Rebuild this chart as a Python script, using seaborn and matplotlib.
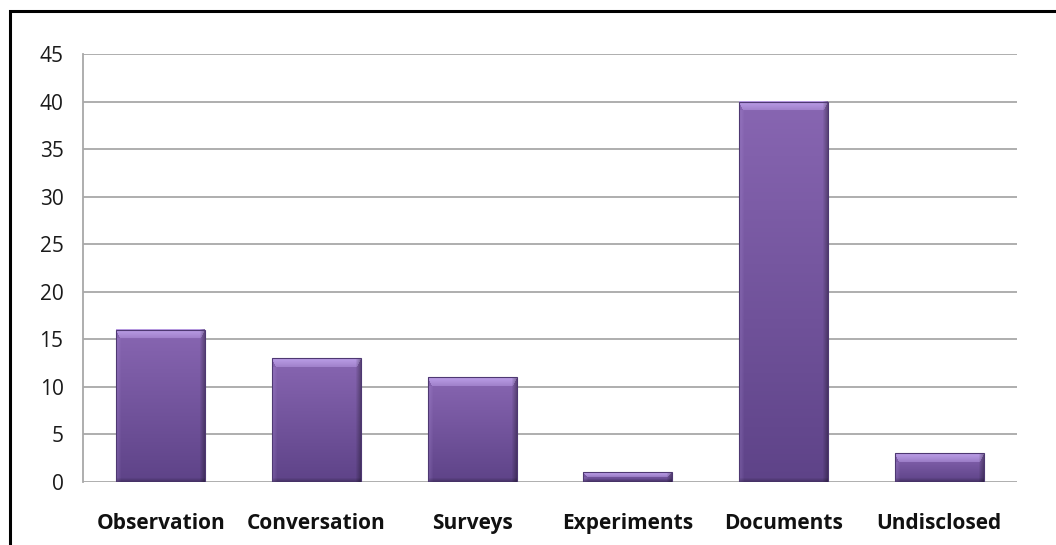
import numpy as np
import pandas as pd
import matplotlib
matplotlib.use("Agg")
import matplotlib.pyplot as plt
from matplotlib.patches import Rectangle
import seaborn as sns

categories = ["Observation", "Conversation", "Surveys", "Experiments", "Documents", "Undisclosed"]
counts = [16, 13, 11, 1, 40, 3]
y_ticks = [0, 5, 10, 15, 20, 25, 30, 35, 40, 45]

df = pd.DataFrame({"method": categories, "count": counts})

sns.set_theme(style="white")
plt.rcParams["font.family"] = ["Open Sans", "DejaVu Sans"]

W, H, DPI = 1056, 545, 100
fig = plt.figure(figsize=(W / DPI, H / DPI), dpi=DPI)
fig.patch.set_facecolor("white")
ax = fig.add_axes([83 / W, 1 - 482 / H, (1017 - 83) / W, (482 - 54) / H])

sns.barplot(data=df, x="method", y="count", ax=ax, width=0.57,
            color="#7a5aa4", saturation=1, edgecolor="none")

ax.set_ylim(0, 45)
ax.set_xlim(-0.5, len(categories) - 0.5)
ax.set_yticks(y_ticks)
ax.set_yticklabels([str(t) for t in y_ticks], fontsize=15, color="#1a1a1a")
ax.set_xticks(range(len(categories)))
ax.set_xticklabels(categories, fontsize=15, fontweight="bold", color="#111111")
ax.tick_params(axis="y", length=0, pad=14)
ax.tick_params(axis="x", length=0, pad=22)
ax.set_xlabel("")
ax.set_ylabel("")

ax.yaxis.grid(True, color="#a8a8a8", linewidth=1.3)
ax.set_axisbelow(True)
for side in ["top", "right", "bottom"]:
    ax.spines[side].set_visible(False)
ax.spines["left"].set_color("#a8a8a8")
ax.spines["left"].set_linewidth(1.3)


def bevel_image(h_px, w_px):
    h_px = max(int(round(h_px)), 2)
    w_px = max(int(round(w_px)), 2)
    top = np.array([0x88, 0x66, 0xb2]) / 255
    bot = np.array([0x5e, 0x43, 0x88]) / 255
    t = np.linspace(0, 1, h_px)[:, None, None]
    img = np.ones((h_px, w_px, 3)) * (top * (1 - t) + bot * t)
    light = np.array([0xc4, 0xa8, 0xf0]) / 255
    bev = min(9, max(h_px // 2, 1))
    side = min(5, w_px // 4)
    # top bevel shaped as a trapezoid: narrower toward the body
    for i in range(bev):
        f = 0.85 - 0.45 * i / bev
        lo = min(i * side // max(bev, 1), side)
        img[i, lo:w_px - lo, :] = img[i, lo:w_px - lo, :] * (1 - f) + light * f
    for j in range(side):
        f = 1 - j / side
        img[bev:, j, :] = img[bev:, j, :] * (1 - 0.22 * f) + light * 0.22 * f
        img[:, -1 - j, :] = img[:, -1 - j, :] * (1 - 0.3 * f)
    sb = min(4, h_px // 3)
    for i in range(sb):
        f = 1 - i / max(sb, 1)
        img[-1 - i, :, :] = img[-1 - i, :, :] * (1 - 0.25 * f)
    return np.clip(img, 0, 1)


fig.canvas.draw()
px_per_unit = ax.get_window_extent().height / 45
px_per_x = ax.get_window_extent().width / len(categories)
for p in ax.patches:
    x0, w, hgt = p.get_x(), p.get_width(), p.get_height()
    img = bevel_image(hgt * px_per_unit, w * px_per_x)
    ax.imshow(img, extent=(x0, x0 + w, 0, hgt), aspect="auto",
              interpolation="bilinear", zorder=3)
    ax.add_patch(Rectangle((x0, 0), w, hgt, fill=False,
                           edgecolor="#4e3872", linewidth=0.8, zorder=4))
    p.set_visible(False)

ax.set_xlim(-0.5, len(categories) - 0.5)
ax.set_ylim(0, 45)

# outer frame around the chart
fig.add_artist(Rectangle((9.5 / W, -0.1), 1.2, 1 - 10.5 / H + 0.1,
                         transform=fig.transFigure, fill=False,
                         edgecolor="black", linewidth=2.2))

fig.savefig("out.png", dpi=DPI)
